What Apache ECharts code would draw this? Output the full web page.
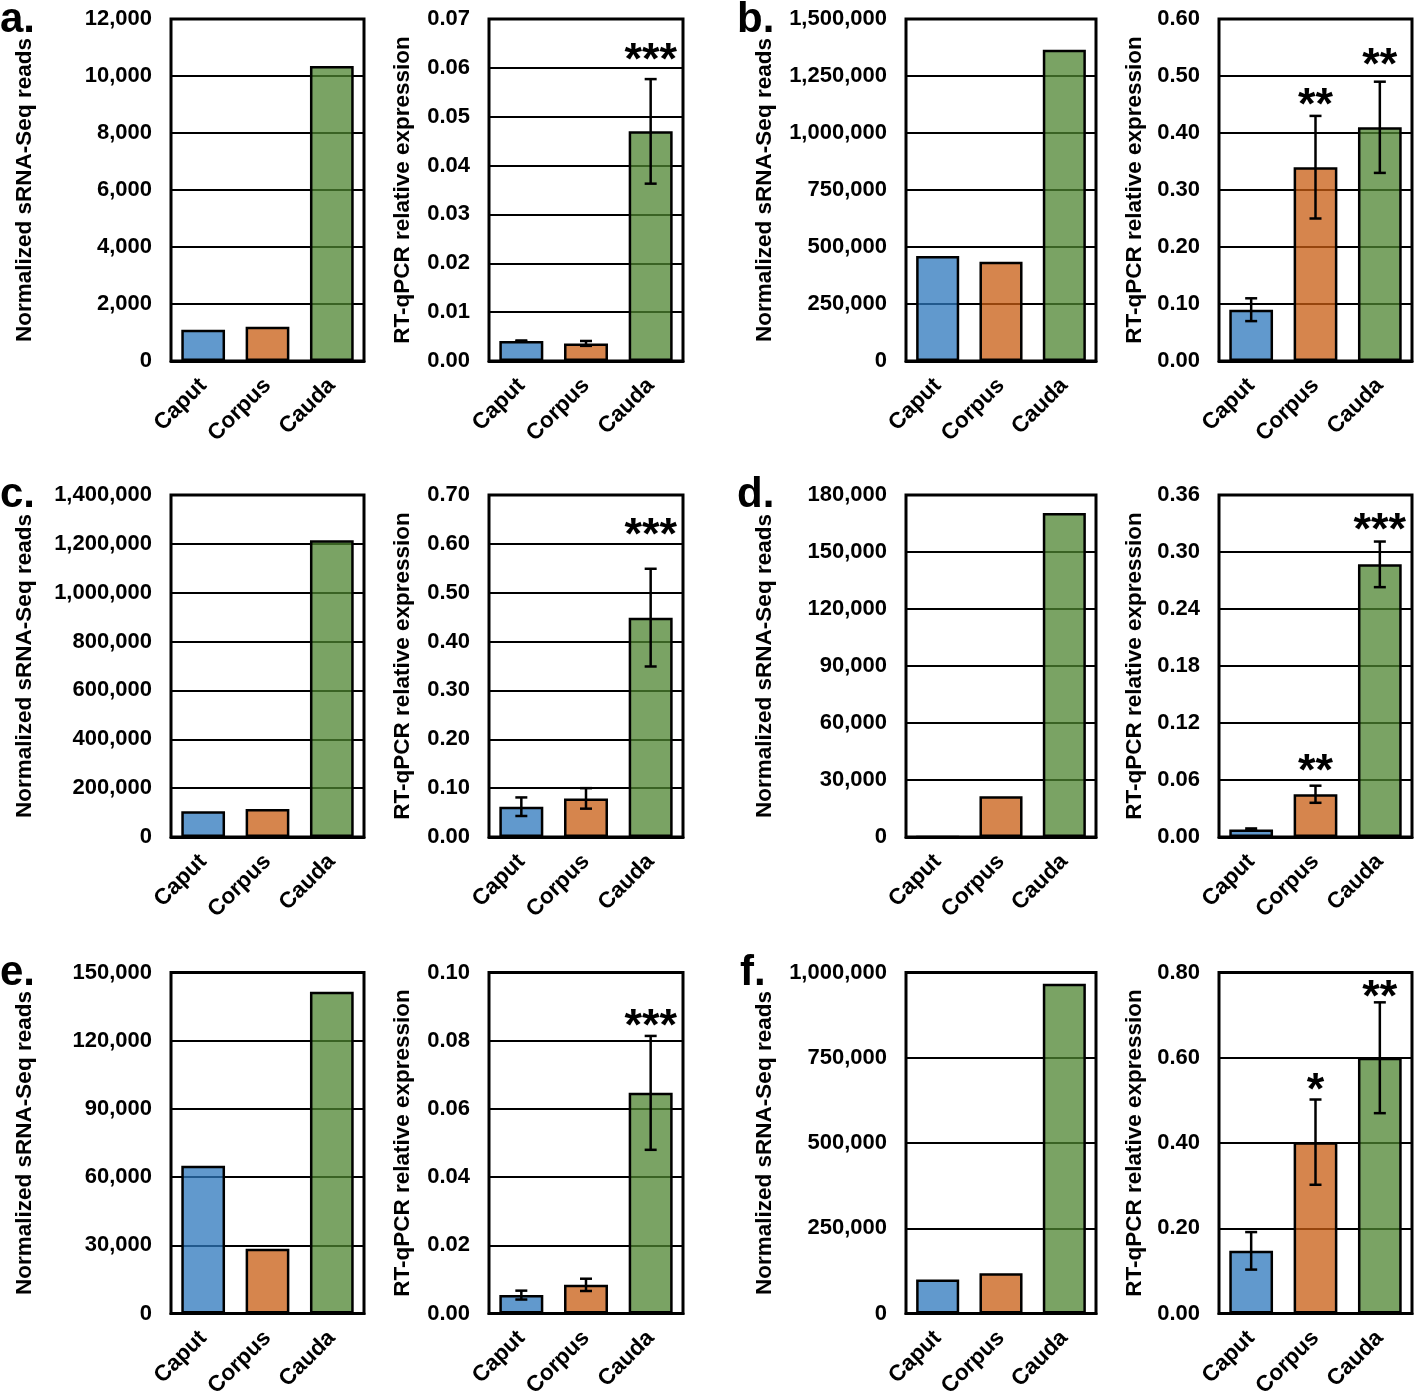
<!DOCTYPE html>
<html><head><meta charset="utf-8">
<script src="https://cdn.jsdelivr.net/npm/echarts@6/dist/echarts.min.js"></script>
<style>html,body{margin:0;padding:0;background:#fff}#c{width:1418px;height:1396px}</style>
</head><body><div id="c"></div>
<script>
const categories = ['Caput', 'Corpus', 'Cauda'];
const barColors = ['rgba(44,119,188,0.75)', 'rgba(200,92,17,0.75)', 'rgba(77,132,48,0.75)'];
const panelLetters = ['a.', 'b.', 'c.', 'd.', 'e.', 'f.'];

// Normalized sRNA-Seq reads
const readsA = [1100, 1200, 10350];
const readsB = [460000, 435000, 1365000];
const readsC = [105000, 115000, 1215000];
const readsD = [0, 21500, 170500];
const readsE = [65000, 28500, 141500];
const readsF = [100000, 118000, 967000];

// RT-qPCR relative expression (means)
const qpcrA = [0.0041, 0.0036, 0.047];
const qpcrB = [0.09, 0.34, 0.41];
const qpcrC = [0.062, 0.079, 0.449];
const qpcrD = [0.008, 0.045, 0.287];
const qpcrE = [0.0054, 0.0084, 0.0647];
const qpcrF = [0.147, 0.402, 0.600];

// RT-qPCR error (+/-)
const errA = [0.0001, 0.0005, 0.0107];
const errB = [0.02, 0.09, 0.08];
const errC = [0.019, 0.021, 0.10];
const errD = [0.001, 0.009, 0.024];
const errE = [0.0013, 0.0018, 0.0167];
const errF = [0.044, 0.10, 0.13];

// significance marks and their vertical positions (data units)
const starsA = ['', '', '***'];  const starPosA = [null, null, 0.0633];
const starsB = ['', '**', '**']; const starPosB = [null, 0.464, 0.534];
const starsC = ['', '', '***'];  const starPosC = [null, null, 0.635];
const starsD = ['', '**', '***']; const starPosD = [null, 0.078, 0.332];
const starsE = ['', '', '***'];  const starPosE = [null, null, 0.0867];
const starsF = ['', '*', '**'];  const starPosF = [null, 0.545, 0.763];

// axis ranges: [max, interval]
const readsAxis = [[12000, 2000], [1500000, 250000], [1400000, 200000], [180000, 30000], [150000, 30000], [1000000, 250000]];
const qpcrAxis = [[0.07, 0.01], [0.6, 0.1], [0.7, 0.1], [0.36, 0.06], [0.10, 0.02], [0.8, 0.2]];

const readsTitle = 'Normalized sRNA-Seq reads';
const qpcrTitle = 'RT-qPCR relative expression';

const FONT = 'Liberation Sans, Arial, sans-serif';
const colX = [[171, 193], [489, 194], [906, 190], [1219, 193]];
const rowY = [[19, 342], [495, 342], [972.5, 341]];
const nameGaps = [135, 75, 130, 73];

const grids = [], xAxes = [], yAxes = [], series = [];

function addPanel(col, row, values, axis, isReads, errs, stars, starPos) {
  const gi = grids.length;
  grids.push({
    left: colX[col][0], top: rowY[row][0], width: colX[col][1], height: rowY[row][1],
    containLabel: false, outerBoundsMode: 'none',
    show: true, borderColor: '#000', borderWidth: 3, backgroundColor: '#fff'
  });
  xAxes.push({
    type: 'category', gridIndex: gi, data: categories,
    axisLine: {show: true, lineStyle: {color: '#000', width: 3}},
    axisTick: {show: false},
    axisLabel: {rotate: 45, margin: 21, color: '#000', fontSize: 22.5, fontWeight: 'bold', fontFamily: FONT, interval: 0}
  });
  yAxes.push({
    type: 'value', gridIndex: gi, min: 0, max: axis[0], interval: axis[1],
    name: isReads ? readsTitle : qpcrTitle, nameLocation: 'middle', nameGap: nameGaps[col],
    nameTextStyle: {color: '#000', fontSize: 22.5, fontWeight: 'bold', fontFamily: FONT},
    axisLine: {show: false}, axisTick: {show: false},
    splitLine: {show: true, lineStyle: {color: '#000', width: 2}},
    axisLabel: {
      margin: 19, color: '#000', fontSize: 22, fontWeight: 'bold', fontFamily: FONT,
      formatter: v => isReads ? Math.round(v).toLocaleString('en-US') : v.toFixed(2)
    }
  });
  series.push({
    type: 'bar', xAxisIndex: gi, yAxisIndex: gi, barWidth: '68%',
    data: values.map((v, i) => ({value: v, itemStyle: {color: barColors[i], borderColor: '#000', borderWidth: 2.5}})),
    z: 2
  });
  if (errs) {
    series.push({
      type: 'custom', xAxisIndex: gi, yAxisIndex: gi, z: 3,
      data: values.map((v, i) => [i, v - errs[i], v + errs[i]]),
      encode: {x: 0, y: [1, 2]},
      renderItem: (params, api) => {
        const x = api.value(0);
        const lo = api.coord([x, api.value(1)]);
        const hi = api.coord([x, api.value(2)]);
        const w = 6, st = {stroke: '#000', lineWidth: 2.5};
        return {type: 'group', children: [
          {type: 'line', shape: {x1: hi[0], y1: hi[1], x2: lo[0], y2: lo[1]}, style: st},
          {type: 'line', shape: {x1: hi[0] - w, y1: hi[1], x2: hi[0] + w, y2: hi[1]}, style: st},
          {type: 'line', shape: {x1: lo[0] - w, y1: lo[1], x2: lo[0] + w, y2: lo[1]}, style: st}
        ]};
      }
    });
    const sd = [];
    stars.forEach((s, i) => { if (s) sd.push([i, starPos[i]]); });
    const starText = stars.filter(s => s);
    series.push({
      type: 'custom', xAxisIndex: gi, yAxisIndex: gi, z: 4,
      data: sd, encode: {x: 0, y: 1},
      renderItem: (params, api) => {
        const p = api.coord([api.value(0), api.value(1)]);
        return {type: 'text', x: p[0], y: p[1] + 10, style: {
          text: starText[params.dataIndex], fill: '#000', font: 'bold 45px ' + FONT,
          align: 'center', verticalAlign: 'middle'
        }};
      }
    });
  }
}

addPanel(0, 0, readsA, readsAxis[0], true);
addPanel(1, 0, qpcrA, qpcrAxis[0], false, errA, starsA, starPosA);
addPanel(2, 0, readsB, readsAxis[1], true);
addPanel(3, 0, qpcrB, qpcrAxis[1], false, errB, starsB, starPosB);
addPanel(0, 1, readsC, readsAxis[2], true);
addPanel(1, 1, qpcrC, qpcrAxis[2], false, errC, starsC, starPosC);
addPanel(2, 1, readsD, readsAxis[3], true);
addPanel(3, 1, qpcrD, qpcrAxis[3], false, errD, starsD, starPosD);
addPanel(0, 2, readsE, readsAxis[4], true);
addPanel(1, 2, qpcrE, qpcrAxis[4], false, errE, starsE, starPosE);
addPanel(2, 2, readsF, readsAxis[5], true);
addPanel(3, 2, qpcrF, qpcrAxis[5], false, errF, starsF, starPosF);

const letterPos = [[0, 32], [737, 32], [0, 507], [737, 507], [0, 985], [740, 985]];
const graphics = panelLetters.map((t, i) => ({
  type: 'text', left: letterPos[i][0], top: letterPos[i][1] - 33,
  style: {text: t, fill: '#000', font: 'bold 42px ' + FONT}
}));

const chart = echarts.init(document.getElementById('c'), null, {renderer: 'canvas'});
chart.setOption({
  animation: false,
  backgroundColor: '#fff',
  grid: grids, xAxis: xAxes, yAxis: yAxes, series: series,
  graphic: graphics
});
</script>
</body></html>
